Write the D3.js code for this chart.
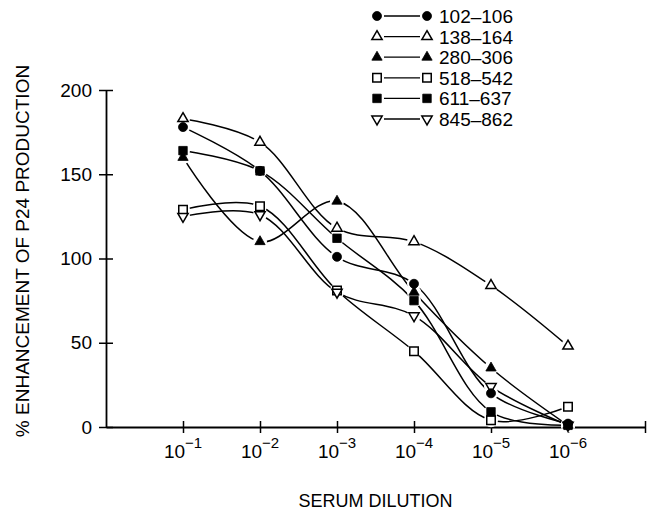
<!DOCTYPE html>
<html>
<head>
<meta charset="utf-8">
<script src="https://cdn.jsdelivr.net/npm/d3@7"></script>
<style>
  body { margin: 0; background: #fff; }
  svg { display: block; font-family: "Liberation Sans", Arial, sans-serif; }
</style>
</head>
<body>
<div id="chart"></div>
<script>
// serum dilution exponents (10^-1 ... 10^-6)
var dilutions = [1, 2, 3, 4, 5, 6];
var dilutionLabels = ["\u22121", "\u22122", "\u22123", "\u22124", "\u22125", "\u22126"];
var yTicks = [0, 50, 100, 150, 200];

var seriesNames = ["102\u2013106", "138\u2013164", "280\u2013306", "518\u2013542", "611\u2013637", "845\u2013862"];
var peptide102 = [178, 152, 101, 85, 20, 2];
var peptide138 = [183, 169, 118, 110, 84, 48];
var peptide280 = [160, 110, 134, 80, 35, 1];
var peptide518 = [129, 131, 81, 45, 4, 12];
var peptide611 = [164, 152, 112, 75, 9, 1];
var peptide845 = [125, 126, 80, 66, 24, 1];

var seriesValues = [peptide102, peptide138, peptide280, peptide518, peptide611, peptide845];
// marker: shape + filled
var markers = [
    {shape: "circle", filled: true},
    {shape: "triangle", filled: false},
    {shape: "triangle", filled: true},
    {shape: "square", filled: false},
    {shape: "square", filled: true},
    {shape: "down", filled: false}
];

var svgWidth = 650;
var svgHeight = 515;

var svg = d3.select("#chart")
    .append("svg")
    .attr("width", svgWidth)
    .attr("height", svgHeight);

var xScale = d3.scaleLinear().domain([0, 7]).range([106, 645]);
var yScale = d3.scaleLinear().domain([0, 200]).range([427, 90]);

function symbolPath(m) {
    var type = m.shape === "circle" ? d3.symbolCircle
        : m.shape === "square" ? d3.symbolSquare : d3.symbolTriangle;
    var size = m.shape === "circle" ? 64 : m.shape === "square" ? 72 : 46;
    return d3.symbol().type(type).size(size)();
}

function drawMarker(g, m, x, y) {
    var rot = m.shape === "down" ? " rotate(180)" : "";
    g.append("path")
        .attr("d", symbolPath(m))
        .attr("transform", `translate(${x},${y})${rot}`)
        .attr("fill", m.filled ? "#000" : "#fff")
        .attr("stroke", "#000")
        .attr("stroke-width", m.filled ? 0.8 : 1.5);
}

// y axis
var yAxis = svg.append("g")
    .attr("transform", `translate(${xScale(0)},0)`)
    .call(d3.axisLeft(yScale).tickValues(yTicks).tickSizeInner(7).tickSizeOuter(0).tickPadding(7));
yAxis.select(".domain").attr("stroke-width", 1.8);
yAxis.selectAll(".tick line").attr("x1", 7).attr("stroke-width", 1.5);
yAxis.selectAll(".tick text")
    .attr("font-size", 19)
    .attr("font-family", "Liberation Sans, Arial, sans-serif")
    .attr("fill", "#000");

// x axis
var xAxis = svg.append("g")
    .attr("transform", `translate(0,${yScale(0)})`)
    .call(d3.axisBottom(xScale).tickValues(dilutions.concat([7])).tickFormat("").tickSizeInner(6).tickSizeOuter(0));
xAxis.select(".domain").attr("stroke-width", 1.8);
xAxis.selectAll(".tick line").attr("y1", -6).attr("stroke-width", 1.5);

var xLabels = svg.append("g")
    .attr("font-size", 19)
    .attr("text-anchor", "middle");
dilutions.forEach(function(d, i) {
    var t = xLabels.append("text")
        .attr("x", xScale(d))
        .attr("y", yScale(0) + 31);
    t.append("tspan").text("10");
    t.append("tspan")
        .attr("dy", -10)
        .attr("font-size", 15)
        .text(dilutionLabels[i]);
});

// axis titles
svg.append("text")
    .attr("x", xScale(3.5))
    .attr("y", 507)
    .attr("text-anchor", "middle")
    .attr("font-size", 18)
    .text("SERUM DILUTION");

svg.append("text")
    .attr("transform", "rotate(-90)")
    .attr("x", -251)
    .attr("y", 29)
    .attr("text-anchor", "middle")
    .attr("font-size", 19)
    .text("% ENHANCEMENT OF P24 PRODUCTION");

// curves
var line = d3.line()
    .x(function(d) { return xScale(d[0]); })
    .y(function(d) { return yScale(d[1]); })
    .curve(d3.curveCatmullRom.alpha(0.5));

var curveGroup = svg.append("g");
seriesValues.forEach(function(vals) {
    curveGroup.append("path")
        .datum(dilutions.map(function(d, i) { return [d, vals[i]]; }))
        .attr("d", line)
        .attr("fill", "none")
        .attr("stroke", "#000")
        .attr("stroke-width", 1.5);
});

// white gaps around the points, then the markers (open ones first, filled on top)
var gapGroup = svg.append("g");
var openGroup = svg.append("g");
var filledGroup = svg.append("g");
seriesValues.forEach(function(vals, s) {
    dilutions.forEach(function(d, i) {
        gapGroup.append("circle")
            .attr("cx", xScale(d))
            .attr("cy", yScale(vals[i]))
            .attr("r", 7)
            .attr("fill", "#fff");
        drawMarker(markers[s].filled ? filledGroup : openGroup, markers[s], xScale(d), yScale(vals[i]));
    });
});

// legend
var legend = svg.append("g");
seriesNames.forEach(function(name, i) {
    var y = 16 + i * 20.6;
    legend.append("line")
        .attr("x1", 384).attr("x2", 420)
        .attr("y1", y).attr("y2", y)
        .attr("stroke", "#000")
        .attr("stroke-width", 1.3);
    drawMarker(legend, markers[i], 377, y);
    drawMarker(legend, markers[i], 427, y);
    legend.append("text")
        .attr("x", 439)
        .attr("y", y + 7)
        .attr("font-size", 19)
        .text(name);
});
</script>
</body>
</html>
